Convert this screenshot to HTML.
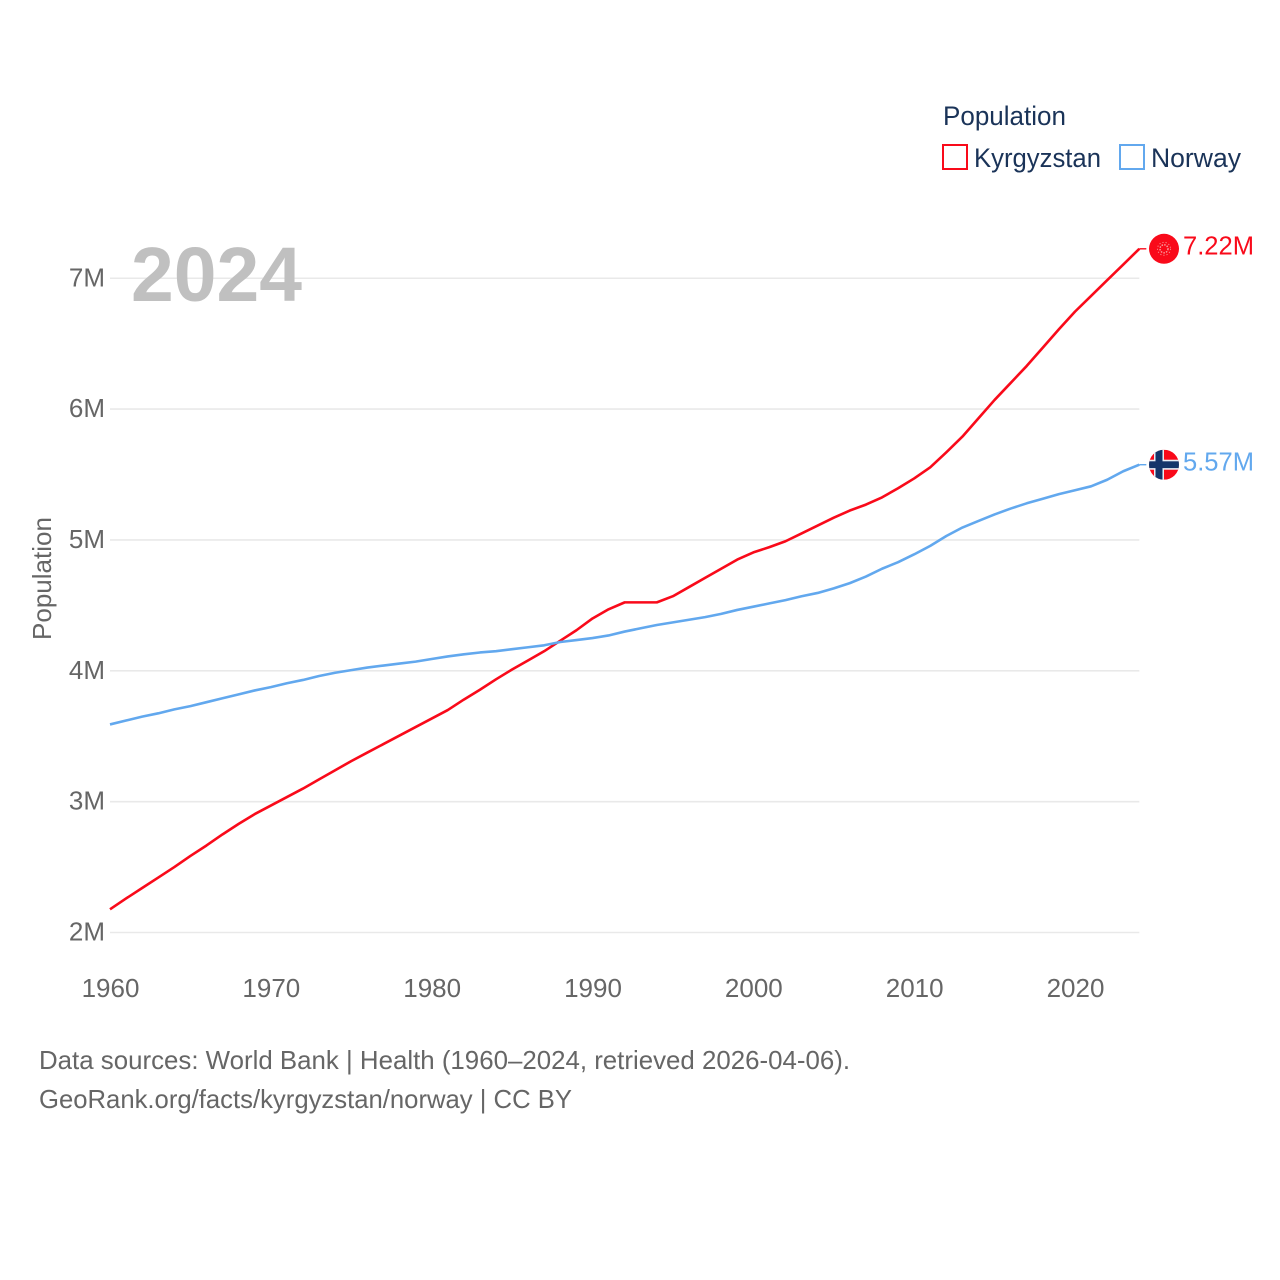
<!DOCTYPE html>
<html lang="en">
<head>
<meta charset="utf-8">
<title>Population: Kyrgyzstan and Norway</title>
<style>
html,body{margin:0;padding:0;background:#fff}
svg{display:block}
text{font-family:"Liberation Sans",sans-serif}
</style>
</head>
<body>
<svg id="chart" xmlns="http://www.w3.org/2000/svg" width="1280" height="1280" viewBox="0 0 1280 1280">
  <defs>
    <clipPath id="flag-clip"><circle cx="0" cy="0" r="15"/></clipPath>
  </defs>
  <rect width="1280" height="1280" fill="#fff"/>
  <g id="grid"></g>
  <text x="131" y="301" font-size="77" font-weight="700" fill="#c0c0c0" textLength="171" lengthAdjust="spacingAndGlyphs">2024</text>
  <g id="yticks"></g>
  <g id="xticks"></g>
  <text transform="translate(51,640) rotate(-90)" font-size="26" fill="#666" textLength="123" lengthAdjust="spacingAndGlyphs">Population</text>
  <g id="series"></g>

  <g id="flag-kg">
    <circle r="15" fill="#f90a1a"/>
    <circle r="4" fill="none" stroke="#f7a0a0" stroke-width="1.4" stroke-dasharray="1.5 1.2"/>
    <circle r="6.5" fill="none" stroke="#f58a8a" stroke-width="1" stroke-dasharray="1.2 2"/>
  </g>
  <g id="flag-no">
    <g clip-path="url(#flag-clip)">
      <rect x="-15" y="-15" width="30" height="30" fill="#f90a1a"/>
      <rect x="-10" y="-15" width="10" height="30" fill="#e8eef5"/>
      <rect x="-15" y="-5" width="30" height="10" fill="#e8eef5"/>
      <rect x="-8.5" y="-15" width="7" height="30" fill="#14356a"/>
      <rect x="-15" y="-3.4" width="30" height="6.8" fill="#14356a"/>
    </g>
  </g>
  <text id="label-kg" x="1183" font-size="26" fill="#f90a1a" textLength="71" lengthAdjust="spacingAndGlyphs"></text>
  <text id="label-no" x="1183" font-size="26" fill="#62a8ee" textLength="71" lengthAdjust="spacingAndGlyphs"></text>

  <g>
    <text x="943" y="125" font-size="27" fill="#1a3358" textLength="123" lengthAdjust="spacingAndGlyphs">Population</text>
    <g>
      <rect x="943" y="145" width="24" height="24" fill="#fff" stroke="#f90a1a" stroke-width="2"/>
      <text x="974" y="167" font-size="27" fill="#1a3358" textLength="127" lengthAdjust="spacingAndGlyphs">Kyrgyzstan</text>
    </g>
    <g>
      <rect x="1120" y="145" width="24" height="24" fill="#fff" stroke="#62a8ee" stroke-width="2"/>
      <text x="1151" y="167" font-size="27" fill="#1a3358" textLength="90" lengthAdjust="spacingAndGlyphs">Norway</text>
    </g>
  </g>

  <text x="39" y="1069" font-size="26" fill="#666" textLength="811" lengthAdjust="spacingAndGlyphs">Data sources: World Bank | Health (1960–2024, retrieved 2026-04-06).</text>
  <text x="39" y="1108" font-size="26" fill="#666" textLength="533" lengthAdjust="spacingAndGlyphs">GeoRank.org/facts/kyrgyzstan/norway | CC BY</text>
</svg>
<script>
const startYear = 1960;
const kyrgyzstan = [2.177,2.26,2.34,2.42,2.50,2.585,2.665,2.75,2.83,2.905,2.97,3.035,3.10,3.17,3.24,3.31,3.375,3.44,3.505,3.57,3.635,3.70,3.78,3.855,3.935,4.01,4.08,4.15,4.23,4.31,4.40,4.47,4.523,4.523,4.523,4.57,4.64,4.71,4.78,4.85,4.905,4.945,4.99,5.05,5.11,5.17,5.225,5.27,5.325,5.395,5.47,5.555,5.67,5.79,5.93,6.07,6.20,6.33,6.47,6.61,6.745,6.865,6.985,7.105,7.225];
const norway = [3.59,3.62,3.65,3.675,3.705,3.73,3.76,3.79,3.82,3.85,3.875,3.905,3.93,3.96,3.985,4.005,4.025,4.04,4.055,4.07,4.09,4.11,4.126,4.14,4.15,4.165,4.18,4.195,4.22,4.235,4.25,4.27,4.30,4.325,4.35,4.37,4.39,4.41,4.435,4.465,4.49,4.515,4.54,4.57,4.595,4.63,4.67,4.72,4.78,4.83,4.89,4.955,5.03,5.095,5.145,5.195,5.24,5.28,5.315,5.35,5.38,5.41,5.46,5.525,5.575];
const yTickValues = [2,3,4,5,6,7];
const yTickLabels = ["2M","3M","4M","5M","6M","7M"];
const xTickValues = [1960,1970,1980,1990,2000,2010,2020];
const kyrgyzstanEndLabel = "7.22M";
const norwayEndLabel = "5.57M";

const NS = "http://www.w3.org/2000/svg";
const xScale = v => 110 + (v - 1960) * (1075 - 110) / 60;
const yScale = v => 932.5 - (v - 2) * 130.85;
const plotRight = xScale(2024);

function make(tag, attrs, parent, txt) {
  const el = document.createElementNS(NS, tag);
  for (const k in attrs) el.setAttribute(k, attrs[k]);
  if (txt !== undefined) el.textContent = txt;
  parent.appendChild(el);
  return el;
}

const grid = document.getElementById("grid");
const yticks = document.getElementById("yticks");
const xticks = document.getElementById("xticks");
const seriesG = document.getElementById("series");

yTickValues.forEach((v, i) => {
  const line = make("line", {x1: 110, x2: plotRight, y1: yScale(v), y2: yScale(v), stroke: "#e9e9e9", "stroke-width": 1.6}, grid);
  
  
  const t = make("text", {x: 105, y: yScale(v) + 8, "text-anchor": "end", "font-size": 26, fill: "#666"}, yticks, yTickLabels[i]);
  
  
});

xTickValues.forEach(v => {
  const t = make("text", {x: xScale(v) + 0.5, y: 997, "text-anchor": "middle", "font-size": 26, fill: "#666"}, xticks, String(v));
  
  
});

function drawSeries(values, color, name) {
  let d = values.map((v, i) => (i ? "L" : "M") + xScale(startYear + i).toFixed(2) + " " + yScale(v).toFixed(2)).join(" ");
  const lastY = yScale(values[values.length - 1]);
  const path = make("path", {d: d, fill: "none", stroke: color, "stroke-width": 2.6, "stroke-linejoin": "round"}, seriesG);
  
  
  const connector = make("line", {x1: plotRight, x2: plotRight + 7, y1: lastY, y2: lastY, stroke: color, "stroke-width": 1.4}, seriesG);
  
  
  return lastY;
}

const kgY = drawSeries(kyrgyzstan, "#f90a1a", "kyrgyzstan");
const noY = drawSeries(norway, "#62a8ee", "norway");

document.getElementById("flag-kg").setAttribute("transform", "translate(1164," + kgY + ")");
document.getElementById("flag-no").setAttribute("transform", "translate(1164," + noY + ")");
const labelKg = document.getElementById("label-kg");
labelKg.setAttribute("y", kgY + 5.6);
labelKg.textContent = kyrgyzstanEndLabel;
const labelNo = document.getElementById("label-no");
labelNo.setAttribute("y", noY + 6);
labelNo.textContent = norwayEndLabel;
</script>
</body>
</html>
